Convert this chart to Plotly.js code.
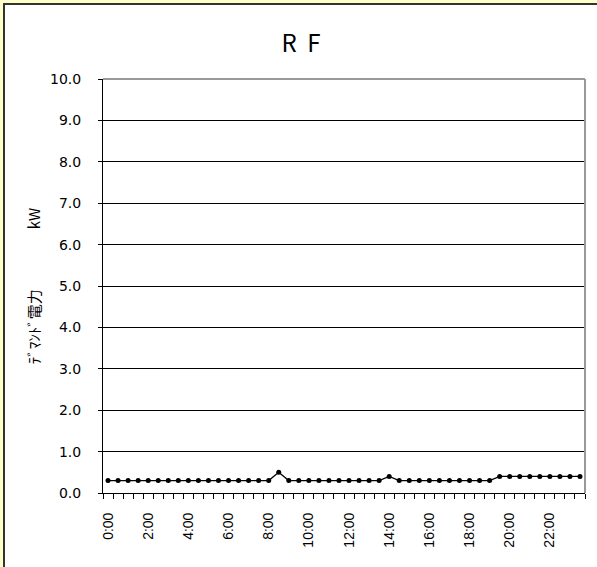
<!DOCTYPE html>
<html>
<head>
<meta charset="utf-8">
<script src="https://cdn.plot.ly/plotly-3.0.1.min.js"></script>
<style>
html,body{margin:0;padding:0;background:#ffffcc;width:597px;height:567px;overflow:hidden;}
#frame{position:absolute;left:3px;top:3px;border-left:2px solid #333;border-top:2px solid #333;background:#fff;}
#chart{width:592px;height:562px;}
</style>
</head>
<body>
<div id="frame"><div id="chart"></div></div>
<script>
// half-hourly time slots
const times = ["0:00","0:30","1:00","1:30","2:00","2:30","3:00","3:30","4:00","4:30","5:00","5:30",
  "6:00","6:30","7:00","7:30","8:00","8:30","9:00","9:30","10:00","10:30","11:00","11:30",
  "12:00","12:30","13:00","13:30","14:00","14:30","15:00","15:30","16:00","16:30","17:00","17:30",
  "18:00","18:30","19:00","19:30","20:00","20:30","21:00","21:30","22:00","22:30","23:00","23:30"];
// demand power (kW)
const demand = [0.3,0.3,0.3,0.3,0.3,0.3,0.3,0.3,0.3,0.3,0.3,0.3,
  0.3,0.3,0.3,0.3,0.3,0.5,0.3,0.3,0.3,0.3,0.3,0.3,
  0.3,0.3,0.3,0.3,0.4,0.3,0.3,0.3,0.3,0.3,0.3,0.3,
  0.3,0.3,0.3,0.4,0.4,0.4,0.4,0.4,0.4,0.4,0.4,0.4];
const titleText = "R&nbsp;&nbsp;F";
const yTitle = "ﾃﾞﾏﾝﾄﾞ電力　　　　kW\u00a0";
const labelEvery = 4;

const tickText = times.map((t,i)=> i % labelEvery === 0 ? t : "");

const trace = {
  x: times, y: demand, type: "scatter", mode: "lines+markers",
  line: {color: "#000", width: 1.3},
  marker: {color: "#000", size: 5},
  hoverinfo: "x+y"
};

const layout = {
  width: 592, height: 562,
  margin: {l: 98, r: 12, t: 74, b: 74},
  paper_bgcolor: "#fff", plot_bgcolor: "#fff",
  showlegend: false,
  font: {family: "'Liberation Sans', Arial, sans-serif", color: "#000", size: 14},
  title: {text: titleText, x: 0.5, xanchor: "center", y: 0.932, yanchor: "middle",
    font: {size: 24, family: "'Noto Sans CJK JP', 'DejaVu Sans', sans-serif", color: "#000"}},
  xaxis: {
    type: "category", tickmode: "array", tickvals: times, ticktext: tickText,
    tickson: "boundaries", ticks: "outside", ticklen: 5, tickcolor: "#000", tickwidth: 1,
    tickangle: -90, showgrid: false, showline: true, linecolor: "#000", linewidth: 1,
    tickfont: {size: 14, family: "'Liberation Sans', Arial, sans-serif"}, ticklabelstandoff: 13,
    zeroline: false, range: [-0.5, times.length - 0.5]
  },
  yaxis: {
    range: [0, 10], dtick: 1, tick0: 0, tickformat: ".1f",
    ticks: "outside", ticklen: 4, tickcolor: "#000",
    showgrid: true, gridcolor: "#000", gridwidth: 1,
    showline: true, linecolor: "#000", linewidth: 1, zeroline: false,
    tickfont: {size: 14, family: "'DejaVu Sans', sans-serif"}, ticklabelstandoff: 14,
    title: {text: yTitle, standoff: 5, font: {size: 15, family: "'Noto Sans CJK JP', sans-serif"}}
  },
  shapes: [
    {type: "line", xref: "paper", yref: "paper", x0: 0, x1: 1, y0: 1, y1: 1, line: {color: "#999", width: 2}},
    {type: "line", xref: "paper", yref: "paper", x0: 1, x1: 1, y0: 0, y1: 1, line: {color: "#999", width: 2}}
  ]
};

Plotly.newPlot("chart", [trace], layout, {displayModeBar: false, staticPlot: true});
</script>
</body>
</html>
